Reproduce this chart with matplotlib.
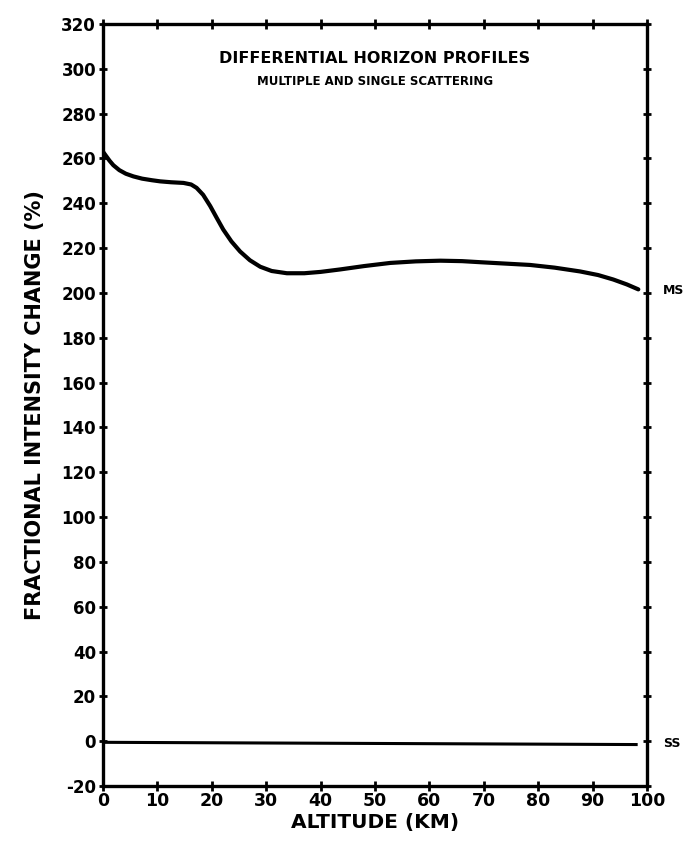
import matplotlib
matplotlib.use("Agg")
import matplotlib.pyplot as plt
import numpy as np

# Data
ms_alt = [0, 0.6, 1.2, 1.9, 3.0, 4.2, 5.6, 7.2, 9.0, 10.5, 12.5, 14.8, 16.2, 17.2, 18.4, 19.7,
          20.9, 22.1, 23.6, 25.2, 27.0, 28.9, 31.0, 33.8, 37.0, 40.0, 43.6, 48.0, 52.8, 57.5,
          62.0, 66.0, 69.5, 74.0, 78.5, 83.0, 87.7, 91.0, 93.8, 96.3, 98.4]
ms_val = [263, 261, 259, 257, 254.8, 253.2, 252, 251, 250.3, 249.8, 249.4, 249.1, 248.4, 246.9, 243.8, 238.8,
          233.5, 228.3, 223.0, 218.5, 214.6, 211.7, 209.8, 208.8, 208.8, 209.4, 210.5, 212.0, 213.4, 214.1,
          214.4, 214.2, 213.7, 213.1, 212.5, 211.3, 209.6, 208.0, 206.0, 203.8, 201.6]
ss_alt = [0, 98]
ss_val = [-0.5, -1.5]

x_ticks = list(range(0, 101, 10))
y_ticks = list(range(-20, 321, 20))

plt.rcParams['font.family'] = ['DejaVu Sans']
fig = plt.figure(figsize=(6.97, 8.43), dpi=100)
ax = fig.add_axes([0.1478, 0.0676, 0.7805, 0.9039])

ax.plot(ms_alt, ms_val, color='black', lw=3.0, solid_capstyle='round', solid_joinstyle='round')
ax.plot(ss_alt, ss_val, color='black', lw=2.2)

ax.set_xlim(0, 100)
ax.set_ylim(-20, 320)
ax.set_xticks(x_ticks)
ax.set_yticks(y_ticks)
ax.set_xticklabels([str(t) for t in x_ticks], fontsize=12.5, fontweight='bold')
ax.set_yticklabels([str(t) for t in y_ticks], fontsize=12, fontweight='bold')
ax.tick_params(axis='both', direction='inout', length=7, width=2, pad=2,
               top=True, right=True, labeltop=False, labelright=False)
ax.tick_params(axis='x', pad=1)
ax.tick_params(axis='y', left=True, length=6)
for s in ax.spines.values():
    s.set_linewidth(2.4)

ax.text(0.5, 0.955, 'DIFFERENTIAL HORIZON PROFILES', transform=ax.transAxes,
        ha='center', va='center', fontsize=11.5, fontweight='bold')
ax.text(0.5, 0.925, 'MULTIPLE AND SINGLE SCATTERING', transform=ax.transAxes,
        ha='center', va='center', fontsize=8.5, fontweight='bold')

ax.text(103, 201, 'MS', ha='left', va='center', fontsize=9, fontweight='bold', clip_on=False)
ax.text(103, -1, 'SS', ha='left', va='center', fontsize=9, fontweight='bold', clip_on=False)

ax.set_xlabel('ALTITUDE (KM)', fontsize=14.5, fontweight='bold', labelpad=2)
ax.set_ylabel('FRACTIONAL INTENSITY CHANGE (%)', fontsize=15, fontweight='bold', labelpad=12)

fig.savefig('out.png', dpi=100)
